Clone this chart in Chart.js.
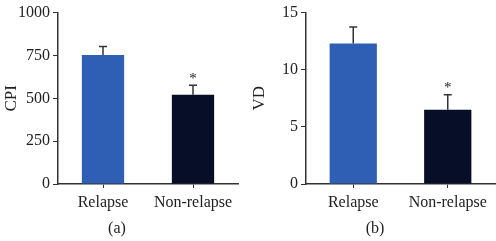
<!DOCTYPE html>
<html>
<head>
<meta charset="utf-8">
<script src="https://cdn.jsdelivr.net/npm/chart.js@4.4.0/dist/chart.umd.min.js"></script>
<style>
    html, body { margin: 0; padding: 0; background: #fff; }
    #wrap { position: relative; width: 496px; height: 241px; overflow: hidden; }
    .panel { position: absolute; top: 0; width: 248px; height: 241px; }
    .caption { position: absolute; top: 219px; width: 40px; text-align: center;
        font-family: 'Liberation Serif', serif; font-size: 16px; color: #222; }
</style>
</head>
<body>
<div id="wrap">
    <div class="panel" style="left:0"><canvas id="chart-a" width="248" height="241"></canvas></div>
    <div class="panel" style="left:248px"><canvas id="chart-b" width="248" height="241"></canvas></div>
    <div class="caption" style="left:97px">(a)</div>
    <div class="caption" style="left:355px">(b)</div>
</div>
<script>
// Data
const groups = ['Relapse', 'Non-relapse'];
const barColors = ['#2f5fb4', '#060e28'];
const cpiMeans = [752, 520];
const cpiErrors = [50, 56];
const vdMeans = [12.3, 6.5];
const vdErrors = [1.45, 1.3];
const sigMarks = ['', '*'];

const textColor = '#222';
const serif = 'Liberation Serif';

// Upward error bars + significance stars
const errorBarPlugin = {
    id: 'errorBars',
    afterDatasetsDraw(chart) {
        const ctx = chart.ctx;
        const yScale = chart.scales.y;
        const ds = chart.data.datasets[0];
        const meta = chart.getDatasetMeta(0);
        ctx.save();
        meta.data.forEach((bar, i) => {
            const yTop = yScale.getPixelForValue(ds.data[i] + ds.errors[i]);
            ctx.strokeStyle = '#333';
            ctx.lineWidth = 1.5;
            ctx.beginPath();
            ctx.moveTo(bar.x, bar.y);
            ctx.lineTo(bar.x, yTop);
            ctx.moveTo(bar.x - 4, yTop);
            ctx.lineTo(bar.x + 4, yTop);
            ctx.stroke();
            if (sigMarks[i]) {
                ctx.fillStyle = textColor;
                ctx.font = '15px ' + serif;
                ctx.textAlign = 'center';
                ctx.textBaseline = 'bottom';
                ctx.fillText(sigMarks[i], bar.x, yTop + 1);
            }
        });
        ctx.restore();
    }
};

function makeChart(id, title, means, errors, max, step, opts) {
    const ctx = document.getElementById(id).getContext('2d');
    return new Chart(ctx, {
        type: 'bar',
        data: {
            labels: groups,
            datasets: [{
                data: means,
                errors: errors,
                backgroundColor: barColors,
                borderWidth: 0,
                barPercentage: opts.barPct,
                categoryPercentage: 1
            }]
        },
        options: {
            responsive: false,
            animation: false,
            layout: { padding: { top: opts.top, right: opts.right, left: 0, bottom: 0 } },
            plugins: { legend: { display: false }, tooltip: { enabled: false } },
            scales: {
                x: {
                    grid: { display: true, drawOnChartArea: false, offset: false, tickLength: 4, color: '#333', lineWidth: 1 },
                    border: { display: true, color: '#333', width: 1.5 },
                    ticks: { color: textColor, font: { family: serif, size: 16 }, padding: 5 },
                    afterFit: s => { s.height = 57; }
                },
                y: {
                    min: 0,
                    max: max,
                    grid: { display: true, drawOnChartArea: false, tickLength: 5, color: '#333', lineWidth: 1 },
                    border: { display: true, color: '#333', width: 1.5 },
                    ticks: { stepSize: step, color: textColor, font: { family: serif, size: 16 }, padding: 3,
                        callback: v => String(v) },
                    title: { display: true, text: title, color: textColor, font: { family: serif, size: 17 }, padding: { top: 1, bottom: 1 } },
                    afterFit: s => { s.width = 58; }
                }
            }
        },
        plugins: [errorBarPlugin]
    });
}

document.addEventListener('DOMContentLoaded', function() {
    makeChart('chart-a', 'CPI', cpiMeans, cpiErrors, 1000, 250, { top: 11, right: 10, barPct: 0.47 });
    makeChart('chart-b', 'VD', vdMeans, vdErrors, 15, 5, { top: 7, right: 1, barPct: 0.5 });
});
</script>
</body>
</html>
